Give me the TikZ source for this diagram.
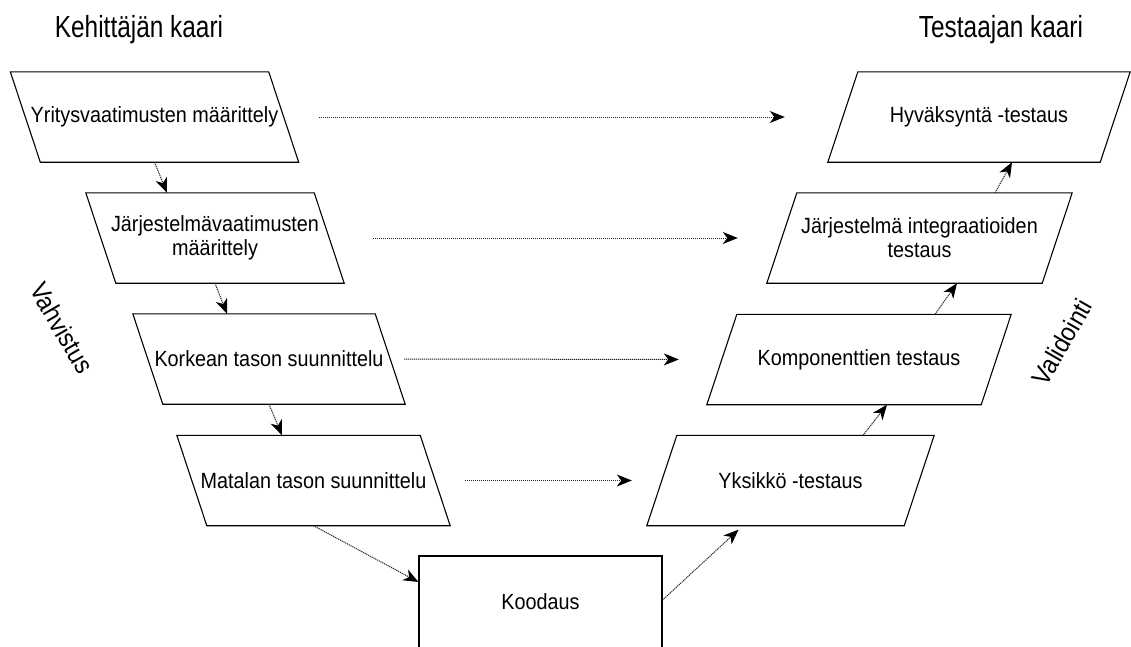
\documentclass[tikz,border=0pt]{standalone}
\usepackage{fontspec}
\setmainfont{Liberation Sans}
\newfontfamily\boxfont[FakeStretch=0.9]{Liberation Sans}
\newfontfamily\headfont[FakeStretch=0.8]{Liberation Sans}
\usetikzlibrary{arrows.meta}

\begin{document}
\begin{tikzpicture}[x=1pt,y=-1pt,
  box/.style={minimum height=90pt, inner sep=0pt, align=center,
              font=\boxfont\fontsize{22}{24}\selectfont},
  outline/.style={draw=black, line width=1.1pt, line join=miter},
  flow/.style={draw=black!85, line width=1pt, dash pattern=on 1.2pt off 0.8pt,
               -{Stealth[length=15pt,width=12pt,inset=4.5pt,color=black]}},
  heading/.style={anchor=base, inner sep=0pt, font=\headfont\fontsize{30.5}{32}\selectfont},
  sidelabel/.style={inner sep=0pt, font=\boxfont\fontsize{26}{28}\selectfont}
]
\useasboundingbox (0,0) rectangle (1131,646);
\clip (0,0) rectangle (1131,646);

% headings
\node[heading] (devarc) at (139,37) {Kehittäjän kaari};
\node[heading] (testarc) at (1001,37) {Testaajan kaari};

% slanted side labels
\node[sidelabel, rotate=-60] (verif) at (62,328) {Vahvistus};
\node[sidelabel, rotate=60] (valid) at (1062,342) {Validointi};

% development side (top edge shifted left)
\node[box, minimum width=258pt] (l1) at (154.5,117) {Yritysvaatimusten määrittely};
\node[box, minimum width=228pt] (l2) at (215,238) {Järjestelmävaatimusten\\määrittely};
\node[box, minimum width=242pt] (l3) at (269,359) {Korkean tason suunnittelu};
\node[box, minimum width=243pt] (l4) at (313.5,480.5) {Matalan tason suunnittelu};

% coding at the bottom of the V
\node[box, outline, minimum width=243pt, minimum height=92pt] (code) at (540.5,602) {Koodaus};

% testing side (top edge shifted right)
\node[box, minimum width=257pt] (r1) at (790.5,480.5) {Yksikkö -testaus};
\node[box, minimum width=274pt] (r2) at (859,359.5) {Komponenttien testaus};
\node[box, minimum width=275pt] (r3) at (919.5,238) {Järjestelmä integraatioiden\\testaus};
\node[box, minimum width=272pt] (r4) at (979,117) {Hyväksyntä -testaus};

% parallelogram outlines
\foreach \n in {l1,l2,l3,l4}{
  \draw[outline] ([xshift=-15pt]\n.north west) -- ([xshift=-15pt]\n.north east)
    -- ([xshift=15pt]\n.south east) -- ([xshift=15pt]\n.south west) -- cycle;
}
\foreach \n in {r1,r2,r3,r4}{
  \draw[outline] ([xshift=15pt]\n.north west) -- ([xshift=15pt]\n.north east)
    -- ([xshift=-15pt]\n.south east) -- ([xshift=-15pt]\n.south west) -- cycle;
}

% down the development side
\draw[flow] (l1.south) -- ([xshift=-48pt]l2.north);
\draw[flow] (l2.south) -- ([xshift=-42pt]l3.north);
\draw[flow] (l3.south) -- ([xshift=-31.5pt]l4.north);
\draw[flow] (l4.south) -- ([yshift=20pt]code.west);

% up the testing side
\draw[flow] ([yshift=2pt]code.east) -- ([xshift=-52pt,yshift=-4pt]r1.south);
\draw[flow] ([xshift=72.5pt]r1.north) -- ([xshift=28pt]r2.south);
\draw[flow] ([xshift=76pt]r2.north) -- ([xshift=37.5pt]r3.south);
\draw[flow] ([xshift=75.5pt]r3.north) -- ([xshift=33pt]r4.south);

% level-to-level correspondences
\draw[flow, shorten <=35.5pt, shorten >=58pt] (l1.east) -- (r4.west);
\draw[flow, shorten <=44pt, shorten >=44pt] (l2.east) -- (r3.west);
\draw[flow, shorten <=14pt, shorten >=43pt] (l3.east) -- (r2.west);
\draw[flow, shorten <=30pt, shorten >=30pt] (l4.east) -- (r1.west);
\end{tikzpicture}
\end{document}
